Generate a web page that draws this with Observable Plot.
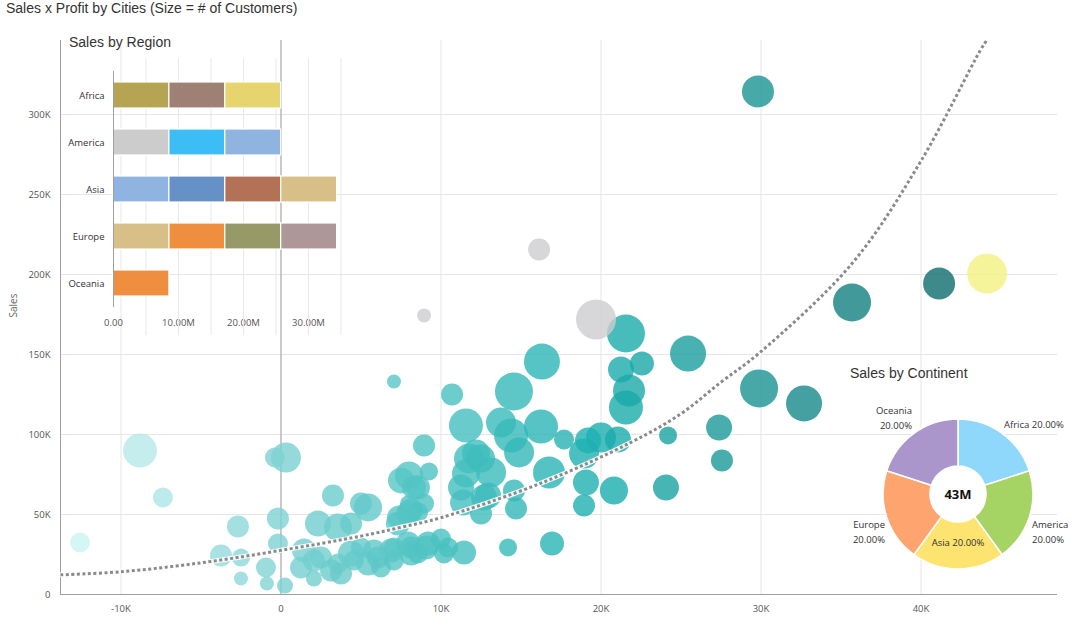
<!DOCTYPE html>
<html><head><meta charset="utf-8">
<script src="https://cdn.jsdelivr.net/npm/d3@7"></script>
<script src="https://cdn.jsdelivr.net/npm/@observablehq/plot@0.6"></script>
<style>
body{margin:0;background:#fff;}
#wrap{position:relative;width:1077px;height:626px;overflow:hidden;font-family:"Open Sans",sans-serif;}
#wrap svg{position:absolute;overflow:visible;}
.ttl{position:absolute;font-family:"Liberation Sans",Arial,sans-serif;font-size:14px;line-height:16px;color:#333;white-space:nowrap;}
</style></head><body><div id="wrap"></div>
<script>
// ---------- DATA ----------
const chartTitle = "Sales x Profit by Cities (Size = # of Customers)";
const regionTitle = "Sales by Region";
const continentTitle = "Sales by Continent";

// Cities (profit in K, sales in K, customers)
const profitK = [-12.56,-8.81,-7.38,-2.69,-3.75,-2.5,-2.5,-0.94,-0.88,-0.19,-0.19,0.31,-0.38,0.25,
 1.25,2.06,2.06,1.44,2.5,3.13,3.75,3.56,4.38,4.56,5.44,5.0,6.06,6.25,5.81,6.88,7.06,7.06,7.94,8.13,8.56,8.13,9.06,9.19,10.0,10.19,10.44,11.44,
 3.25,2.31,3.56,4.38,5.0,5.44,7.31,7.38,7.94,8.13,8.56,8.94,7.5,8.56,7.94,8.0,8.31,9.25,8.94,7.06,10.69,
 11.56,13.75,14.56,14.38,14.88,16.25,16.31,17.69,11.75,12.19,11.56,13.13,12.5,11.25,11.38,12.69,12.94,14.56,14.69,12.5,14.19,16.94,16.75,
 18.94,20.0,19.19,21.06,19.06,18.94,20.81,24.06,24.19,25.44,21.56,21.25,22.56,21.75,21.56,27.38,27.56,29.81,29.88,32.69,35.69,41.13];
const salesK = [32.5,90,60.6,42.5,24.4,23.1,10,16.9,6.9,47.5,31.9,85.6,85.6,5.6,
 16.9,10,21.3,27.5,23.1,15,13.1,19.4,25.6,21.3,19.4,29.4,23.1,16.9,27.5,27.5,21.3,29.4,31.9,29.4,25.6,25.6,29.4,31.9,35,25.6,29.4,26.3,
 61.9,44.4,41.9,44.4,56.9,54.4,44.4,48.1,50.6,52.5,51.3,56.9,71.3,66.9,56.9,74.4,66.9,76.9,93.1,133.1,125,
 105.6,107.5,126.9,99.4,88.8,105,145.6,96.9,85,88.1,75.6,76.3,85,66.9,57.5,60.6,61.9,65,53.8,50.6,29.4,31.9,76.3,
 88.1,98.1,96.3,96.9,70,55.6,65,66.9,99.4,150.6,163.1,140.6,144.4,127.5,116.9,104.4,83.8,314.4,128.8,119.4,182.5,194.4];
const customers = [100,289,100,121,121,81,49,100,49,121,100,225,100,64,
 121,64,121,144,121,121,121,100,169,100,144,100,121,100,121,144,100,100,144,121,100,144,144,144,100,100,100,144,
 121,169,196,121,121,196,144,144,144,144,100,100,169,144,64,196,144,81,121,49,121,
 289,225,361,289,225,289,324,100,225,196,196,225,196,169,169,169,169,121,121,121,81,144,256,
 225,225,169,169,169,121,196,169,81,324,361,169,144,256,289,169,121,256,361,324,361,256];

// Highlighted cities
const hiProfitK = [44.13,16.13,19.69,8.94];
const hiSalesK = [200.6,215.6,171.9,174.4];
const hiCustomers = [400,121,400,49];
const hiGroup = ["yellow","gray","gray","gray"];

// Trend curve
const trendProfitK = [-13.78,-10,-5,0,5,7.5,10,16.25,21.9,25,27.5,29.9,35.7,40,43.7,44.1];
const trendSalesK = [12.3,14.2,19.8,27.6,36.5,42,48,69.6,95.2,113,132.7,151,207,271,340,346.2];

const xTicksK = [-10,0,10,20,30,40];
const yTicksK = [0,50,100,150,200,250,300];

// Sales by Region
const regions = ["Africa","America","Asia","Europe","Oceania"];
const regionSegmentsM = [[8.6,8.6,8.6],[8.6,8.6,8.6],[8.6,8.6,8.6,8.6],[8.6,8.6,8.6,8.6],[8.6]];
const regionTicksM = [0,10,20,30];
const regionGridM = [0,5,10,15,20,25,30,35];

// Sales by Continent
const continents = ["Africa","America","Asia","Europe","Oceania"];
const continentShare = [20,20,20,20,20];
const continentTotal = "43M";

// ---------- STYLES ----------
const segColors = [
  ["#b5a552","#9e8074","#e6d56f"],
  ["#cccccc","#3dbdf5","#8fb4e0"],
  ["#8fb4e0","#6591c7","#b37256","#d8bf88"],
  ["#d8bf88","#ef8e3e","#979966","#ae9796"],
  ["#ef8e3e"]
];
const sliceColors = ["#8fd7fb","#a6d464","#fde36f","#fea46e","#ab96cb"];
const teal = d3.scaleLinear().domain([-12,0,10,20,30,36,41])
  .range(["#ccf2f3","#7cd1d2","#4ac1c1","#1aaeae","#1a9292","#107e7e","#0e6d6d"]).clamp(true);
const hiColors = {yellow:"#f4f181", gray:"#cdcdd1"};

const wrap = document.getElementById("wrap");
const fontSmall = '"Open Sans", sans-serif';

// ---------- MAIN ----------
const cities = profitK.map((p,i)=>({profit:p, sales:salesK[i], customers:customers[i], fill:teal(p)}));
const hi = hiProfitK.map((p,i)=>({profit:p, sales:hiSalesK[i], customers:hiCustomers[i], fill:hiColors[hiGroup[i]]}));
const trend = trendProfitK.map((p,i)=>({profit:p, sales:trendSalesK[i]}));

const main = Plot.plot({
  width:1077, height:626, marginLeft:60, marginRight:20, marginTop:40, marginBottom:32,
  style:{fontFamily:fontSmall, fontSize:"9.5px", color:"#555", background:"transparent"},
  x:{domain:[-13.78,48.53], ticks:xTicksK, tickFormat:d=>d===0?"0":d+"K", tickSize:0, tickPadding:10.5, label:null},
  y:{domain:[0,346.25], ticks:yTicksK, tickFormat:d=>d===0?"0":d+"K", tickSize:0, tickPadding:10, label:null},
  r:{type:"sqrt", domain:[0,400], range:[0,20]},
  color:{type:"identity"},
  marks:[
    Plot.ruleX(xTicksK, {stroke:"#e6e6e6"}),
    Plot.ruleY(yTicksK.filter(v=>v>0), {stroke:"#e6e6e6"}),
    Plot.ruleX([0], {stroke:"#a0a0a0"}),
    Plot.ruleX([-13.78], {stroke:"#a0a0a0"}),
    Plot.ruleY([0], {stroke:"#a0a0a0"}),
    Plot.dot(cities, {x:"profit", y:"sales", r:"customers", fill:"fill", fillOpacity:0.8}),
    Plot.dot(hi, {x:"profit", y:"sales", r:"customers", fill:"fill", fillOpacity:0.8}),
    Plot.line(trend, {x:"profit", y:"sales", stroke:"#ffffff", strokeWidth:5, curve:"catmull-rom", strokeOpacity:0.9}),
    Plot.line(trend, {x:"profit", y:"sales", stroke:"#8a8a8a", strokeWidth:3, strokeDasharray:"3 2.5", curve:"catmull-rom"}),
    Plot.text(["Sales"], {frameAnchor:"left", dx:-47, rotate:-90, fill:"#666", fontSize:10})
  ]
});
main.style.left="0px"; main.style.top="0px";
{
  const lineGroups = main.querySelectorAll('g[aria-label="line"]');
  const dotted = lineGroups[lineGroups.length-1];
  if (dotted) {
    dotted.setAttribute("stroke-dasharray","3 2.5");
    dotted.querySelectorAll("path").forEach(p=>{p.setAttribute("stroke-dasharray","3 2.5"); p.setAttribute("stroke-linecap","butt");});
  }
}
wrap.appendChild(main);

// ---------- INSET: Sales by Region ----------
const barRows = [];
regions.forEach((reg,i)=>regionSegmentsM[i].forEach((v,j)=>barRows.push({region:reg, value:v, color:segColors[i][j]})));
const inset = Plot.plot({
  width:300, height:280, marginLeft:53, marginRight:19.5, marginTop:11, marginBottom:33,
  style:{fontFamily:fontSmall, fontSize:"9.5px", color:"#555", background:"transparent"},
  x:{domain:[0,35], ticks:regionTicksM, tickFormat:d=>d===0?"0.00":d.toFixed(2)+"M", tickSize:0, tickPadding:11.5, label:null},
  y:{domain:regions, paddingInner:0.44, paddingOuter:0.22, tickSize:0, tickPadding:9, label:null},
  color:{type:"identity"},
  marks:[
    Plot.ruleX(regionGridM.filter(v=>v>0), {stroke:"#e8e8e8", insetTop:-13, insetBottom:-28}),
    Plot.barX(barRows, Plot.stackX({x:"value", y:"region", fill:"color", stroke:"#ffffff", strokeWidth:1.2})),
    Plot.ruleX([0], {stroke:"#a0a0a0"})
  ]
});
inset.style.left="60px"; inset.style.top="60px";
inset.querySelectorAll("g[aria-label='y-axis tick label'] text, g[aria-label='y-axis'] text").forEach(t=>t.setAttribute("fill","#333"));
wrap.appendChild(inset);

// ---------- DONUT: Sales by Continent ----------
const pieData = d3.pie().sort(null).value(d=>d.share)(continents.map((c,i)=>({name:c, share:continentShare[i]})));
const labelLayout = [
  {dx:46, dy:-69, anchor:"start", split:false},
  {dx:74, dy:31, anchor:"start", split:true},
  {dx:0, dy:49, anchor:"middle", split:false},
  {dx:-73, dy:31, anchor:"end", split:true},
  {dx:-46, dy:-83, anchor:"end", split:true}
];
function donutMark(){
  const cx=118, cy=104;
  const g = d3.create("svg:g");
  const c = g.append("g").attr("transform",`translate(${cx},${cy})`);
  c.selectAll("path").data(pieData).join("path")
    .attr("d", d3.arc().innerRadius(28).outerRadius(75))
    .attr("fill",(d,i)=>sliceColors[i]).attr("stroke","#fff").attr("stroke-width",1.6);
  c.append("circle").attr("r",27).attr("fill","#fff");
  c.append("text").attr("text-anchor","middle").attr("dy","0.35em")
    .attr("font-weight","bold").attr("font-size",13).attr("fill","#111").text(continentTotal);
  pieData.forEach((d,i)=>{
    const L = labelLayout[i];
    const pct = d.data.share.toFixed(2)+"%";
    const t = c.append("text").attr("text-anchor",L.anchor).attr("font-size",9.5).attr("fill","#333")
      .attr("transform",`translate(${L.dx},${L.dy})`);
    if (L.split){
      t.append("tspan").attr("x",0).attr("dy","0.35em").text(d.data.name);
      t.append("tspan").attr("x",0).attr("dy","1.5em").text(pct);
    } else {
      t.append("tspan").attr("x",0).attr("dy","0.35em").text(d.data.name+" "+pct);
    }
  });
  return g.node();
}
const donut = Plot.plot({
  width:237, height:210, margin:0,
  style:{fontFamily:fontSmall, background:"transparent"},
  marks:[donutMark]
});
donut.style.left="840px"; donut.style.top="390px";
wrap.appendChild(donut);

// ---------- TITLES ----------
function addTitle(text, left, top){
  const d = document.createElement("div");
  d.className="ttl"; d.textContent=text; d.style.left=left+"px"; d.style.top=top+"px";
  wrap.appendChild(d);
}
addTitle(chartTitle, 6, 0);
addTitle(regionTitle, 69, 33.5);
addTitle(continentTitle, 850, 364.5);
</script></body></html>
